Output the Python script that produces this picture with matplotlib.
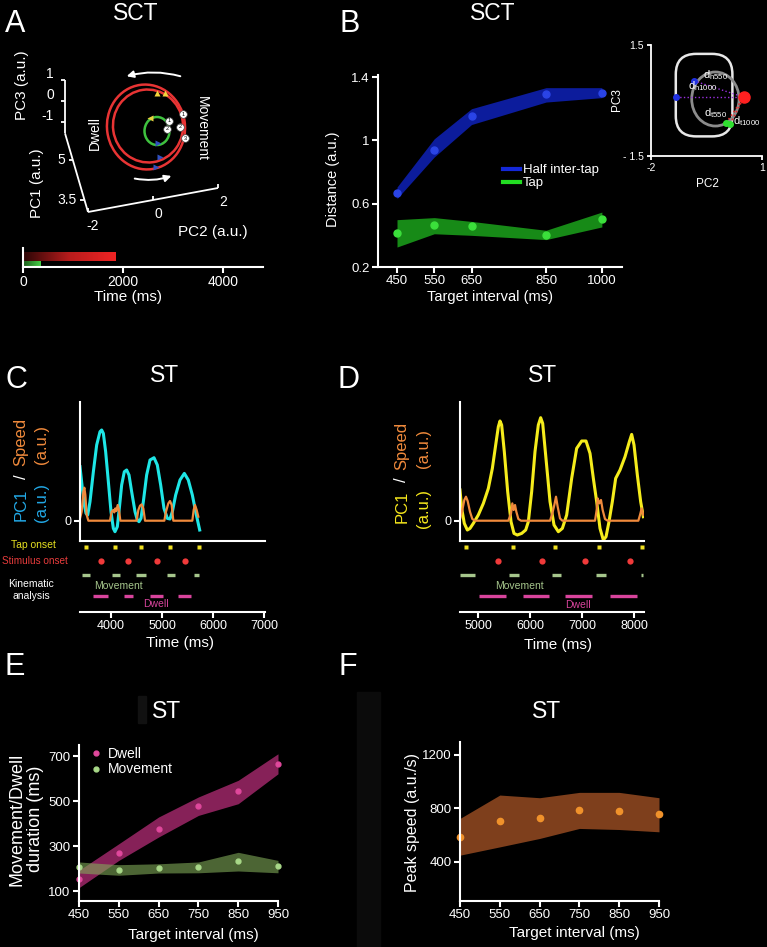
import numpy as np
import matplotlib
matplotlib.use('Agg')
import matplotlib.pyplot as plt
from matplotlib.patches import Ellipse, FancyArrowPatch, FancyBboxPatch, Rectangle
from matplotlib.colors import LinearSegmentedColormap
from matplotlib.lines import Line2D

plt.rcParams['font.family'] = ['Liberation Sans', 'DejaVu Sans']
plt.rcParams['mathtext.fontset'] = 'custom'
plt.rcParams['mathtext.rm'] = 'Liberation Sans'
plt.rcParams['mathtext.it'] = 'Liberation Sans'

# ------------------------------------------------------------------ DATA
# Panel A (schematic trajectory, SCT)
a_pc2_ticks = [-2, 0, 2]
a_pc1_ticks = [3.5, 5]
a_pc3_ticks = [-1, 0, 1]
a_loop_cx = [146, 148]
a_loop_cy = [127, 126]
a_loop_w = [78, 70]
a_loop_h = [85, 73]
a_tap_loop = [157, 131, 25, 28]          # cx, cy, w, h of the green (tap) loop
a_time_ticks = [0, 2000, 4000]
a_red_bar_ms = 1850
a_green_bar_ms = 350

# Panel B (SCT distances)
b_interval = [450, 550, 650, 850, 1000]
b_half_mean = [0.667, 0.937, 1.154, 1.295, 1.299]
b_half_lo = [0.632, 0.895, 1.100, 1.242, 1.270]
b_half_hi = [0.705, 1.010, 1.200, 1.333, 1.333]
b_tap_mean = [0.417, 0.463, 0.457, 0.400, 0.505]
b_tap_lo = [0.326, 0.410, 0.400, 0.373, 0.453]
b_tap_hi = [0.499, 0.512, 0.488, 0.432, 0.547]
b_yticks = [0.2, 0.6, 1.0, 1.4]
b_ytick_labels = ['0.2', '0.6', '1', '1.4']
# Inset
ins_half_pc2 = [-1.32, -0.84]
ins_half_pc3 = [0.09, 0.53]
ins_ref_pc2 = [0.51]
ins_ref_pc3 = [0.09]
ins_tap_pc2 = [0.03, 0.14]
ins_tap_pc3 = [-0.61, -0.64]

# Panel C (ST, 450-ish intervals)
c_t = [3392, 3438, 3477, 3510, 3543, 3588, 3654, 3719, 3784, 3817, 3850, 3895,
       3948, 4000, 4046, 4078, 4124, 4163, 4209, 4261, 4307, 4353, 4405, 4471,
       4516, 4549, 4588, 4634, 4699, 4765, 4843, 4908, 4974, 5039, 5105, 5157,
       5203, 5268, 5353, 5438, 5516, 5595, 5660, 5739]
c_pc1 = [5.4, 3.23, 1.57, 0.73, 0.57, 1.9, 4.9, 7.57, 8.9, 9.07, 8.73, 6.9,
         3.9, 0.9, -0.77, -1.1, -0.6, 1.23, 3.57, 4.9, 5.07, 4.57, 2.9, 0.9,
         0.07, -0.1, 0.23, 1.9, 4.57, 6.07, 6.3, 5.57, 3.57, 1.23, 0.23, 0.17,
         0.9, 2.57, 4.07, 4.73, 4.07, 2.57, 0.9, -0.93]
c_speed_t = [3392, 3425, 3458, 3477, 3497, 3523, 3556, 3980, 4013, 4046, 4065,
             4085, 4105, 4131, 4157, 4183, 4503, 4536, 4569, 4601, 4634, 4667,
             5046, 5078, 5124, 5157, 5190, 5222, 5595, 5621, 5647, 5680, 5712]
c_speed = [0.23, 0.9, 2.9, 3.3, 2.57, 0.57, 0, 0, 0.9, 1.07, 0.83,
           1.23, 0.97, 1.57, 1.07, 0, 0, 1.07, 1.5, 1.63, 1.23, 0,
           0, 0.9, 1.73, 1.97, 1.57, 0, 0, 1.07, 1.57, 1.07, 0.4]
c_tap = [3503, 4085, 4588, 5150, 5725]
c_stim = [3797, 4340, 4902, 5444]
c_move_start = [3425, 4013, 4490, 5092, 5634]
c_move_end = [3588, 4176, 4686, 5255, 5725]
c_dwell_start = [3654, 4255, 4765, 5320]
c_dwell_end = [3948, 4425, 5026, 5562]
c_xticks = [4000, 5000, 6000, 7000]

# Panel D (ST, longer intervals)
d_t = [4654, 4686, 4737, 4795, 4846, 4910, 5006, 5103, 5199, 5276, 5340, 5391,
       5423, 5455, 5506, 5571, 5635, 5692, 5756, 5840, 5917, 5968, 6032, 6096,
       6160, 6205, 6244, 6301, 6385, 6462, 6545, 6622, 6705, 6801, 6897, 6994,
       7077, 7154, 7218, 7282, 7346, 7410, 7462, 7519, 7583, 7647, 7731, 7827,
       7910, 7955, 8000, 8064, 8128, 8179]
d_pc1 = [3.07, 1.23, -0.27, -0.93, -0.77, -0.27, 0.57, 1.73, 3.23, 5.23, 7.57, 9.4,
         9.97, 9.57, 6.9, 2.9, -0.1, -1.27, -1.43, -1.27, -0.93, -0.1, 2.9, 6.9,
         9.57, 10.3, 9.73, 6.57, 1.9, -0.43, -1.1, -0.77, 0.57, 4.23, 7.23, 7.97,
         7.97, 6.73, 4.23, 1.9, -0.77, -1.93, -1.6, -0.1, 1.9, 4.23, 5.07, 6.4,
         7.9, 8.63, 7.57, 4.57, 1.9, 0.4]
d_speed_t = [4654, 4699, 4737, 4769, 4801, 4846, 4891, 4942, 5583, 5635, 5660,
             5686, 5712, 5737, 5776, 5827, 6385, 6429, 6468, 6500, 6532, 6577,
             6622, 7250, 7282, 7301, 7333, 7365, 7397, 7442, 7494, 8083, 8115,
             8147, 8179]
d_speed = [0.17, 1.07, 2.07, 2.4, 1.97, 0.9, 0.17, 0, 0, 0.73, 1.73,
           1.07, 1.57, 0.9, 0.17, 0, 0, 0.73, 1.57, 2.4, 1.4, 0.23,
           0, 0, 1.07, 2.23, 1.73, 2.07, 1.07, 0.17, 0, 0, 0.57,
           1.23, 0.57]
d_tap = [4771, 5682, 6478, 7318, 8146]
d_stim = [5376, 6236, 7064, 7924]
d_move_start = [4662, 5605, 6427, 7261, 8134]
d_move_end = [4936, 5796, 6605, 7465, 8166]
d_dwell_start = [5013, 5860, 6669, 7529]
d_dwell_end = [5541, 6363, 7191, 8051]
d_xticks = [5000, 6000, 7000, 8000]

# Panel E (movement / dwell durations)
e_interval = [450, 550, 650, 750, 850, 950]
e_dwell_mean = [152, 270, 377, 476, 544, 666]
e_dwell_lo = [115, 236, 340, 436, 488, 621]
e_dwell_hi = [192, 310, 429, 518, 592, 710]
e_move_mean = [207, 192, 202, 205, 233, 210]
e_move_lo = [180, 170, 180, 181, 189, 181]
e_move_hi = [229, 217, 221, 229, 272, 236]
e_yticks = [100, 300, 500, 700]

# Panel F (peak speed)
f_interval = [450, 550, 650, 750, 850, 950]
f_mean = [583, 707, 730, 787, 782, 755]
f_lo = [450, 512, 575, 650, 642, 625]
f_hi = [725, 900, 880, 920, 920, 880]
f_yticks = [400, 800, 1200]

# ------------------------------------------------------------------ FIGURE
W, H = 767, 947
fig = plt.figure(figsize=(W / 100, H / 100), dpi=100, facecolor='black')
WHITE = 'white'


def rect(l, t, r, b):
    return [l / W, 1 - b / H, (r - l) / W, (b - t) / H]


def ftext(x, y, s, **kw):
    kw.setdefault('color', WHITE)
    kw.setdefault('ha', 'center')
    kw.setdefault('va', 'center')
    return fig.text(x / W, 1 - y / H, s, **kw)


def style(ax, lw=1.5, size=9.5, left=True, bottom=True, length=4):
    ax.set_facecolor('none')
    for s in ['top', 'right']:
        ax.spines[s].set_visible(False)
    ax.spines['left'].set_visible(left)
    ax.spines['bottom'].set_visible(bottom)
    for s in ['left', 'bottom']:
        ax.spines[s].set_color(WHITE)
        ax.spines[s].set_linewidth(lw)
    ax.tick_params(colors=WHITE, labelsize=size, width=lw, length=length,
                   direction='out', pad=2)


# background dark boxes
fig.add_artist(Rectangle((357 / W, 0), 23 / W, (H - 692) / H, transform=fig.transFigure,
                         color='#0b0b0b', zorder=-5))
fig.add_artist(Rectangle((138 / W, 1 - 723 / H), 8 / W, 27 / H, transform=fig.transFigure,
                         color='#111111', zorder=-5))

# panel letters & titles
for lab, x, y in [('A', 15, 24), ('B', 350, 24), ('C', 16, 380), ('D', 349, 380),
                  ('E', 15, 667), ('F', 348, 667)]:
    ftext(x, y, lab, fontsize=22)
for tit, x, y in [('SCT', 136, 14), ('SCT', 493, 14), ('ST', 165, 376), ('ST', 543, 376),
                  ('ST', 167, 712), ('ST', 547, 712)]:
    ftext(x, y, tit, fontsize=16.5)

# ------------------------------------------------------------------ PANEL A
axA = fig.add_axes(rect(0, 0, 300, 245))
axA.set_xlim(0, 300)
axA.set_ylim(245, 0)
axA.axis('off')

ORG = (88.0, 212.0)
E2 = (32.5, -6.0)
E1 = (-7.8, -26.7)
E3 = (0.0, -21.0)
P2MIN, P1MIN, P3MIN = -2.0, 3.05, -1.55
P1MAX, P2MAX, P3MAX = 6.0, 2.0, 1.0


def proj(p2, p1, p3):
    x = ORG[0] + (p2 - P2MIN) * E2[0] + (p1 - P1MIN) * E1[0] + (p3 - P3MIN) * E3[0]
    y = ORG[1] + (p2 - P2MIN) * E2[1] + (p1 - P1MIN) * E1[1] + (p3 - P3MIN) * E3[1]
    return x, y


def seg(a, b, **kw):
    axA.plot([a[0], b[0]], [a[1], b[1]], color=WHITE, lw=1.3, solid_capstyle='butt', **kw)


seg(proj(P2MIN, P1MIN, P3MIN), proj(P2MAX, P1MIN, P3MIN))
seg(proj(P2MIN, P1MIN, P3MIN), proj(P2MIN, P1MAX, P3MIN))
seg(proj(P2MIN, P1MAX, P3MIN), proj(P2MIN, P1MAX, P3MAX))
for v in a_pc2_ticks:
    x, y = proj(v, P1MIN, P3MIN)
    seg((x, y), (x, y - 4))
    axA.text(x + 5, y + 14, f'{v:g}', color=WHITE, fontsize=10, ha='center', va='center')
for v in a_pc1_ticks:
    x, y = proj(P2MIN, v, P3MIN)
    seg((x, y), (x - 4, y))
    axA.text(x - 8, y, f'{v:g}', color=WHITE, fontsize=10, ha='right', va='center')
for v in a_pc3_ticks:
    x, y = proj(P2MIN, P1MAX, v)
    seg((x, y), (x - 4, y))
    axA.text(x - 11, y - 6, f'{v:g}', color=WHITE, fontsize=10, ha='right', va='center')
axA.text(22, 85, 'PC3 (a.u.)', color=WHITE, fontsize=11, rotation=90, ha='center', va='center')
axA.text(37, 183, 'PC1 (a.u.)', color=WHITE, fontsize=11, rotation=90, ha='center', va='center')
axA.text(213, 232, 'PC2 (a.u.)', color=WHITE, fontsize=11, ha='center', va='center')

for cx, cy, w, h in zip(a_loop_cx, a_loop_cy, a_loop_w, a_loop_h):
    axA.add_patch(Ellipse((cx, cy), w, h, angle=-8, fill=False, ec='#e83434', lw=1.8))
axA.add_patch(Ellipse((a_tap_loop[0], a_tap_loop[1]), a_tap_loop[2], a_tap_loop[3],
                      fill=False, ec='#3fc23f', lw=1.8))
axA.plot([157, 165], [93, 93], '^', color='#f2d43c', ms=5, mec='none')
axA.plot([150], [118], '<', color='#e8d040', ms=4.5, mec='none')
axA.plot([158, 160, 156], [143, 157, 167], '>', color='#3050c0', ms=5, mec='none')
for (x, y, n) in [(183, 114, '1'), (180, 127, '2'), (185, 138, '3'), (169, 121, '1'), (167, 129, '2')]:
    axA.plot([x], [y], 'o', color=WHITE, ms=5.5, mec='#444444', mew=0.5)
    axA.text(x, y, n, fontsize=4, color='black', ha='center', va='center')
axA.add_patch(FancyArrowPatch((183, 77), (124, 77), connectionstyle='arc3,rad=0.15',
                              arrowstyle='-|>', mutation_scale=10, color=WHITE, lw=1.4))
axA.add_patch(FancyArrowPatch((132, 178), (174, 175), connectionstyle='arc3,rad=0.15',
                              arrowstyle='-|>', mutation_scale=10, color=WHITE, lw=1.4))
axA.text(95, 133, 'Dwell', color=WHITE, fontsize=10, rotation=90, ha='center', va='center')
axA.text(202, 128, 'Movement', color=WHITE, fontsize=10, rotation=-90, ha='center', va='center')

# time bar
axT = fig.add_axes(rect(23, 248, 263, 267))
style(axT, lw=1.5, size=10)
red_cmap = LinearSegmentedColormap.from_list('r', ['#2a0606', '#b81c1c', '#f02424'])
grn_cmap = LinearSegmentedColormap.from_list('g', ['#1e5a1e', '#46d046'])
grad = np.linspace(0, 1, 256)[None, :]
axT.imshow(grad, extent=[0, a_red_bar_ms, 6, 15], aspect='auto', cmap=red_cmap)
axT.imshow(grad, extent=[0, a_green_bar_ms, 0, 6], aspect='auto', cmap=grn_cmap)
axT.set_xlim(0, 4800)
axT.set_ylim(0, 19)
axT.set_yticks([])
axT.set_xticks(a_time_ticks)
axT.set_xticklabels([str(v) for v in a_time_ticks])
ftext(128, 297, 'Time (ms)', fontsize=11)

# ------------------------------------------------------------------ PANEL B
axB = fig.add_axes(rect(378, 75, 622, 267))
style(axB, lw=1.5, size=9.5)
axB.fill_between(b_interval, b_half_lo, b_half_hi, color='#0c1c9c', lw=0)
axB.fill_between(b_interval, b_tap_lo, b_tap_hi, color='#178a17', lw=0)
axB.plot(b_interval, b_half_mean, 'o', color='#2a44e6', ms=5, clip_on=False)
axB.plot(b_interval, b_tap_mean, 'o', color='#3be03b', ms=5, clip_on=False)
axB.set_xlim(399, 1054)
axB.set_ylim(0.2, 1.413)
axB.set_xticks(b_interval)
axB.set_yticks(b_yticks)
axB.set_yticklabels(b_ytick_labels)
ftext(333, 179, 'Distance (a.u.)', fontsize=10.5, rotation=90)
ftext(490, 297, 'Target interval (ms)', fontsize=10.5)
leg = axB.legend(handles=[Line2D([], [], color='#1428d8', lw=3),
                          Line2D([], [], color='#22dd22', lw=3)],
                 labels=['Half inter-tap', 'Tap'], loc='upper left',
                 bbox_to_anchor=(503 / W, 1 - 164 / H), bbox_transform=fig.transFigure,
                 frameon=False, fontsize=9.5, handlelength=1.3, handletextpad=0.2,
                 labelspacing=0.05, borderpad=0, borderaxespad=0)
for t in leg.get_texts():
    t.set_color(WHITE)

# inset
axI = fig.add_axes(rect(651, 45, 762, 156))
style(axI, lw=1.3, size=7.5, length=3)
axI.add_patch(FancyBboxPatch((-1.33, -0.97), 1.53, 2.23,
                             boxstyle='round,pad=0,rounding_size=0.55',
                             fill=False, ec='#e8e8e8', lw=1.8))
axI.add_patch(Ellipse((-0.26, 0.04), 1.28, 1.46, fill=False, ec='#8c8c8c', lw=2))
for x, y in zip(ins_half_pc2, ins_half_pc3):
    axI.plot([x, ins_ref_pc2[0]], [y, ins_ref_pc3[0]], ':', color='#9a30e0', lw=1)
for x, y in zip(ins_tap_pc2, ins_tap_pc3):
    axI.plot([x, ins_ref_pc2[0]], [y, ins_ref_pc3[0]], ':', color='#e03030', lw=1.2)
axI.plot(ins_half_pc2, ins_half_pc3, 'o', color='#2030e0', ms=4)
axI.plot(ins_tap_pc2, ins_tap_pc3, 'o', color='#30e030', ms=4)
axI.plot(ins_ref_pc2, ins_ref_pc3, 'o', color='#ff2020', ms=8)
axI.set_xlim(-2, 1)
axI.set_ylim(-1.5, 1.5)
axI.set_xticks([-2, 1])
axI.set_xticklabels(['-2', '1'])
axI.set_yticks([-1.5, 1.5])
axI.set_yticklabels(['- 1.5', '1.5'])
for s, x, y in [(r'$\mathregular{d_{h550}}$', -0.25, 0.7), (r'$\mathregular{d_{h1000}}$', -0.6, 0.38),
                (r'$\mathregular{d_{t550}}$', -0.25, -0.35), (r'$\mathregular{d_{t1000}}$', 0.6, -0.55)]:
    axI.text(x, y, s, color=WHITE, fontsize=8, ha='center', va='center')
ftext(617, 100, 'PC3', fontsize=8.5, rotation=90)
ftext(707, 184, 'PC2', fontsize=8.5)

# ------------------------------------------------------------------ PANELS C, D


def trace_panel(l, r, xlim, t, pc1, st, sp, pc1_color, tap, stim, ms_, me_, ds_, de_, xticks):
    ax = fig.add_axes(rect(l, 402, r, 541))
    style(ax, lw=1.5, size=9)
    ax.plot(t, pc1, color=pc1_color, lw=2.2)
    ax.plot(st, sp, color='#f08a3c', lw=1.6)
    ax.set_xlim(*xlim)
    ax.set_ylim(-2.03, 11.87)
    ax.set_xticks([])
    ax.set_yticks([0])
    axe = fig.add_axes(rect(l, 541, r, 612))
    style(axe, lw=1.5, size=9, left=False)
    axe.plot(tap, [65] * len(tap), 's', color='#f0e020', ms=3.5, mec='none', clip_on=False)
    axe.plot(stim, [51] * len(stim), 'o', color='#f03a3a', ms=4.5, mec='none', clip_on=False)
    axe.hlines([37] * len(ms_), ms_, me_, color='#a6c68c', lw=2.4)
    axe.hlines([16] * len(ds_), ds_, de_, color='#d8449c', lw=2.4)
    axe.set_xlim(*xlim)
    axe.set_ylim(0, 71)
    axe.set_yticks([])
    axe.set_xticks(xticks)
    return ax, axe


trace_panel(80, 265, (3392, 7020), c_t, c_pc1, c_speed_t, c_speed, '#1ee6e6',
            c_tap, c_stim, c_move_start, c_move_end, c_dwell_start, c_dwell_end, c_xticks)
trace_panel(460, 644, (4654, 8192), d_t, d_pc1, d_speed_t, d_speed, '#f5ec1c',
            d_tap, d_stim, d_move_start, d_move_end, d_dwell_start, d_dwell_end, d_xticks)

# C labels
ftext(21, 505, 'PC1', fontsize=12, rotation=90, color='#22a8e6')
ftext(21, 477, '/', fontsize=12, rotation=90)
ftext(21, 442, 'Speed', fontsize=12, rotation=90, color='#f08a3c')
ftext(41, 502, '(a.u.)', fontsize=12, rotation=90, color='#22a8e6')
ftext(41, 444, '(a.u.)', fontsize=12, rotation=90, color='#f08a3c')
ftext(33, 545, 'Tap onset', fontsize=7.5, color='#e6e020')
ftext(35, 561, 'Stimulus onset', fontsize=7.2, color='#e83c3c')
ftext(31, 590, 'Kinematic\nanalysis', fontsize=7.5, linespacing=1.3)
ftext(118, 586, 'Movement', fontsize=7.5, color='#a6c68c')
ftext(156, 604, 'Dwell', fontsize=7.5, color='#d8449c')
ftext(180, 643, 'Time (ms)', fontsize=11)
# D labels
ftext(402, 507, 'PC1', fontsize=12, rotation=90, color='#f5e61c')
ftext(402, 480, '/', fontsize=12, rotation=90)
ftext(402, 446, 'Speed', fontsize=12, rotation=90, color='#f08a3c')
ftext(424, 508, '(a.u.)', fontsize=12, rotation=90, color='#f5e61c')
ftext(424, 448, '(a.u.)', fontsize=12, rotation=90, color='#f08a3c')
ftext(519, 586, 'Movement', fontsize=7.5, color='#a6c68c')
ftext(578, 605, 'Dwell', fontsize=7.5, color='#d8449c')
ftext(558, 645, 'Time (ms)', fontsize=11)

# ------------------------------------------------------------------ PANEL E
axE = fig.add_axes(rect(79, 745, 278, 901))
style(axE, lw=1.5, size=9.5)
axE.fill_between(e_interval, e_dwell_lo, e_dwell_hi, color='#c0307f', alpha=0.7, lw=0)
axE.fill_between(e_interval, e_move_lo, e_move_hi, color='#80aa58', alpha=0.6, lw=0)
axE.plot(e_interval, e_dwell_mean, 'o', color='#e0489c', ms=3.5, clip_on=False)
axE.plot(e_interval, e_move_mean, 'o', color='#a8d888', ms=3.5, clip_on=False)
axE.set_xlim(450, 950)
axE.set_ylim(55.6, 749)
axE.set_xticks(e_interval)
axE.set_yticks(e_yticks)
legE = axE.legend(handles=[Line2D([], [], ls='none', marker='o', color='#e0489c', ms=3.5),
                           Line2D([], [], ls='none', marker='o', color='#a8d888', ms=3.5)],
                  labels=['Dwell', 'Movement'], loc='upper left',
                  bbox_to_anchor=(90 / W, 1 - 747 / H), bbox_transform=fig.transFigure,
                  frameon=False, fontsize=10, handlelength=0.8, handletextpad=0.5,
                  labelspacing=0.1, borderpad=0, borderaxespad=0)
for t in legE.get_texts():
    t.set_color(WHITE)
ftext(26, 819, 'Movement/Dwell\nduration (ms)', fontsize=13, rotation=90, linespacing=1.1)
ftext(193, 935, 'Target interval (ms)', fontsize=11)

# ------------------------------------------------------------------ PANEL F
axF = fig.add_axes(rect(460, 742, 659, 901))
style(axF, lw=1.5, size=9.5)
axF.fill_between(f_interval, f_lo, f_hi, color='#7e3f1c', lw=0)
axF.plot(f_interval, f_mean, 'o', color='#f0922b', ms=4.5, clip_on=False)
axF.set_xlim(450, 950)
axF.set_ylim(107, 1297)
axF.set_xticks(f_interval)
axF.set_yticks(f_yticks)
ftext(413, 822, 'Peak speed (a.u./s)', fontsize=11.5, rotation=90)
ftext(574, 933, 'Target interval (ms)', fontsize=11)

fig.savefig('out.png', dpi=100, facecolor='black')
